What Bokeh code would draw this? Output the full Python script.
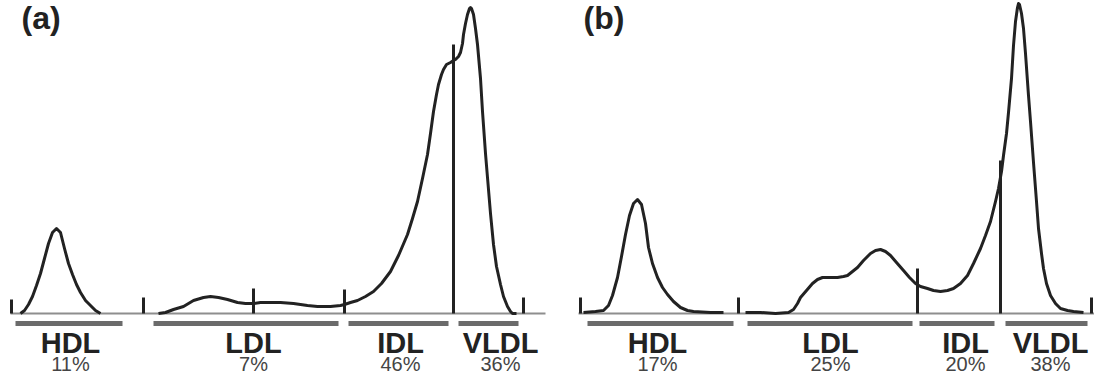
from bokeh.plotting import figure
from bokeh.layouts import row
from bokeh.models import Range1d
from bokeh.core.properties import value
from bokeh.embed import file_html
from bokeh.resources import INLINE

# ---------------- data (x = migration distance along lane, y = trace density) -------------
fractions = ["HDL", "LDL", "IDL", "VLDL"]

# Panel (a)
a_pct = ["11%", "7%", "46%", "36%"]
a_hdl_x = [20, 24, 28, 32, 36, 40, 44, 48, 52, 56, 60, 64, 68, 72, 76, 80, 85, 90, 95, 100]
a_hdl_y = [0, 3, 9, 17, 28, 40, 55, 70, 81, 85, 81, 65, 50, 39, 29, 21, 13, 8, 3, 0]
a_main_x = [158, 165, 173, 183, 193, 203, 210, 218, 227, 237, 245, 253, 260, 267, 280, 293,
            307, 317, 330, 340, 344, 350, 357, 365, 373, 381, 390, 398, 407, 412, 417, 422,
            427, 430, 433, 436, 438, 441, 443, 446, 450, 453, 455, 458, 460, 462, 463, 465,
            467, 469, 470, 471, 473, 475, 477, 480, 482, 485, 487, 490, 493, 496, 500, 503,
            507, 510, 512, 516]
a_main_y = [0, 1, 4, 7, 13, 16, 17, 16, 14, 11, 10, 10, 11, 11, 11, 10,
            8, 7, 7, 8, 9, 11, 13, 17, 22, 30, 42, 58, 79, 95, 112, 135,
            159, 180, 202, 219, 229, 239, 244, 249, 251, 253, 254, 257, 261, 270, 279, 290,
            299, 305, 306, 305, 299, 285, 269, 235, 202, 160, 136, 100, 69, 47, 29, 17,
            7, 2, 0, 0]
a_tick_x = [11, 143, 253, 344, 453, 523]
a_tick_h = [14, 16, 25, 24, 269, 16]
a_band_start = [15, 153, 348, 458]
a_band_end = [122, 338, 448, 518]
a_label_x = [70, 253, 400, 500]
a_line_span = [10, 545]

# Panel (b)
b_pct = ["17%", "25%", "20%", "38%"]
b_hdl_x = [13, 25, 33, 38, 42, 47, 51, 55, 59, 63, 67, 71, 75, 78, 82, 87, 92, 97, 103, 110,
           117, 123, 140, 153]
b_hdl_y = [1, 2, 3, 8, 18, 36, 57, 79, 98, 110, 114, 109, 90, 66, 50, 36, 26, 19, 12, 6,
           3, 2, 1, 1]
b_main_x = [175, 190, 205, 218, 223, 227, 230, 236, 242, 247, 252, 260, 267, 273, 277, 282,
            287, 293, 300, 305, 310, 315, 320, 326, 333, 339, 345, 350, 357, 363, 370, 377,
            383, 390, 397, 403, 410, 415, 420, 425, 428, 431, 433, 436, 438, 441, 443, 445,
            447, 448, 449, 451, 453, 455, 458, 460, 463, 466, 468, 471, 473, 476, 480, 485,
            490, 497, 503, 513]
b_main_y = [1, 1, 0, 1, 4, 10, 16, 23, 30, 34, 36, 36, 36, 37, 38, 42,
            46, 53, 60, 63, 64, 62, 58, 51, 43, 36, 30, 27, 25, 23, 22, 23,
            25, 30, 38, 50, 65, 78, 92, 112, 125, 142, 158, 180, 201, 235, 268, 292,
            306, 310, 309, 300, 285, 260, 218, 192, 151, 112, 85, 60, 45, 30, 18, 10,
            5, 3, 2, 1]
b_tick_x = [10, 168, 347, 430, 521]
b_tick_h = [16, 16, 45, 153, 16]
b_band_start = [17, 177, 349, 435]
b_band_end = [163, 342, 424, 517]
b_label_x = [87, 260, 395, 480]
b_line_span = [8, 540]

FONT = value("Liberation Sans")
INK = "#222222"


def panel(tag, tag_x, x_range, hdl_x, hdl_y, main_x, main_y, tick_x, tick_h,
          band_start, band_end, label_x, pct, line_span):
    p = figure(width=547, height=374, x_range=Range1d(*x_range), y_range=Range1d(-61, 313),
               output_backend="svg", toolbar_location=None,
               x_axis_location=None, y_axis_location=None, min_border=0)
    p.grid.visible = False
    p.outline_line_color = None
    p.background_fill_color = "white"
    p.border_fill_color = "white"

    # baseline
    p.line(x=line_span, y=[0, 0], line_color="#8e8e8e", line_width=2)
    # density trace
    for xs, ys in ((hdl_x, hdl_y), (main_x, main_y)):
        p.line(x=xs, y=ys, line_color=INK, line_width=3, line_join="round")
    # fraction dividers
    p.segment(x0=tick_x, y0=[0] * len(tick_x), x1=tick_x, y1=tick_h,
              line_color=INK, line_width=3)
    # grey bands below baseline
    p.segment(x0=band_start, y0=[-10] * len(band_start), x1=band_end, y1=[-10] * len(band_end),
              line_color="#6b6b6b", line_width=5, line_cap="butt")
    # labels
    p.text(x=label_x, y=[-29] * len(label_x), text=fractions, text_font=FONT,
           text_font_style="bold", text_font_size="29px", text_align="center",
           text_baseline="middle", text_color=INK)
    p.text(x=label_x, y=[-50] * len(label_x), text=pct, text_font=FONT,
           text_font_size="20px", text_align="center", text_baseline="middle",
           text_color="#444444")
    p.text(x=[tag_x], y=[296], text=[tag], text_font=FONT, text_font_style="bold",
           text_font_size="32px", text_align="left", text_baseline="middle",
           text_color=INK)
    return p


pa = panel("(a)", 21, (0, 547), a_hdl_x, a_hdl_y, a_main_x, a_main_y, a_tick_x, a_tick_h,
           a_band_start, a_band_end, a_label_x, a_pct, a_line_span)
pb = panel("(b)", 13, (-23, 524), b_hdl_x, b_hdl_y, b_main_x, b_main_y, b_tick_x, b_tick_h,
           b_band_start, b_band_end, b_label_x, b_pct, b_line_span)

layout = row(pa, pb)
open("out.html", "w").write(file_html(layout, INLINE))
